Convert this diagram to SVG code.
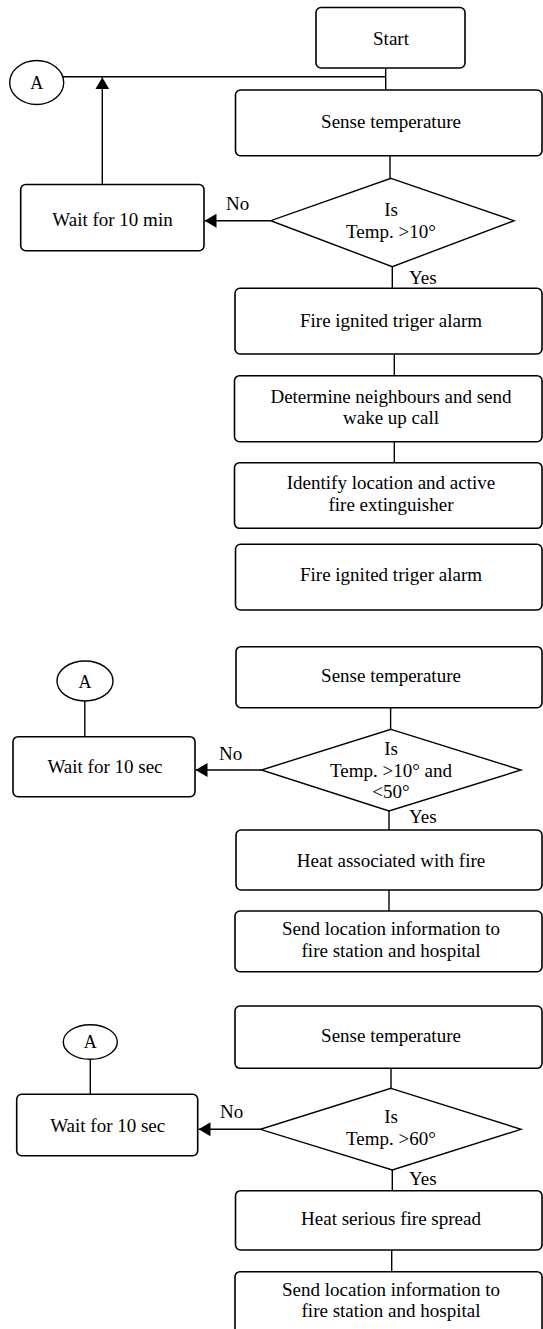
<svg xmlns="http://www.w3.org/2000/svg" width="543" height="1329" viewBox="0 0 543 1329">
<defs>
<style>
.box{fill:#fff;stroke:#000;stroke-width:1.6}
.dia{fill:#fff;stroke:#000;stroke-width:1.4}
.ell{fill:#fff;stroke:#000;stroke-width:1.4}
.ln{fill:none;stroke:#000;stroke-width:1.4}
.arr{fill:none;stroke:#000;stroke-width:1.4;marker-end:url(#ah)}
text{font-family:"Liberation Serif","Times New Roman",serif;font-size:19px;fill:#000;text-anchor:middle}
.lbl{text-anchor:start}
.a{font-size:18px}
</style>
<marker id="ah" viewBox="0 0 12 14" refX="12" refY="7" markerUnits="userSpaceOnUse" markerWidth="12" markerHeight="14" orient="auto">
<path d="M0,0 L12,7 L0,14 z" fill="#000"/>
</marker>
</defs>
<rect width="543" height="1329" fill="#fff"/>

<g id="connectors">
<!-- section 1 -->
<line class="ln" x1="63" y1="76.7" x2="385.7" y2="76.7"/>
<line class="ln" x1="385.7" y1="68" x2="385.7" y2="90"/>
<line class="ln" x1="390" y1="155.7" x2="390" y2="178.3"/>
<line class="arr" x1="270.7" y1="220.7" x2="204.5" y2="220.7"/>
<line class="arr" x1="102.3" y1="184.5" x2="102.3" y2="77.3"/>
<line class="ln" x1="392.3" y1="266.7" x2="392.3" y2="288.3"/>
<line class="ln" x1="394.3" y1="354" x2="394.3" y2="375.7"/>
<line class="ln" x1="394.3" y1="441.7" x2="394.3" y2="462.7"/>
<!-- section 2 -->
<line class="ln" x1="84.8" y1="701" x2="84.8" y2="736.7"/>
<line class="ln" x1="390.6" y1="707.7" x2="390.6" y2="729.3"/>
<line class="arr" x1="261.4" y1="770" x2="195.5" y2="770"/>
<line class="ln" x1="389" y1="811" x2="389" y2="830"/>
<line class="ln" x1="389" y1="890" x2="389" y2="911"/>
<!-- section 3 -->
<line class="ln" x1="90.3" y1="1059" x2="90.3" y2="1094.3"/>
<line class="ln" x1="391" y1="1068.3" x2="391" y2="1088.3"/>
<line class="arr" x1="260.4" y1="1129.3" x2="198.5" y2="1129.3"/>
<line class="ln" x1="392.3" y1="1170" x2="392.3" y2="1190.7"/>
<line class="ln" x1="391.7" y1="1250" x2="391.7" y2="1271.7"/>
</g>

<g id="labels">
<text class="lbl" x="226" y="210">No</text>
<text class="lbl" x="409" y="284">Yes</text>
<text class="lbl" x="219" y="760">No</text>
<text class="lbl" x="409" y="823.3">Yes</text>
<text class="lbl" x="220" y="1118.3">No</text>
<text class="lbl" x="409" y="1185">Yes</text>
</g>

<!-- Section 1 -->
<g id="a1">
<ellipse class="ell" cx="36.7" cy="82.5" rx="27" ry="22"/>
<text class="a" x="36.7" y="89">A</text>
</g>
<g id="start">
<rect class="box" x="316" y="7.5" width="149" height="60.5" rx="5"/>
<text x="391" y="45">Start</text>
</g>
<g id="sense1">
<rect class="box" x="235.5" y="90" width="306.5" height="65.7" rx="5"/>
<text x="391" y="128">Sense temperature</text>
</g>
<g id="dec1">
<polygon class="dia" points="391,178.3 514,220.7 392.3,266.7 270.7,220.7"/>
<text x="391" y="216">Is</text>
<text x="391" y="238">Temp. &gt;10°</text>
</g>
<g id="wait1">
<rect class="box" x="20.7" y="184.5" width="183.3" height="66.2" rx="5"/>
<text x="112.5" y="225.7">Wait for 10 min</text>
</g>
<g id="fire1">
<rect class="box" x="235" y="288.3" width="307" height="65.7" rx="5"/>
<text x="391" y="326.7">Fire ignited triger alarm</text>
</g>
<g id="neigh">
<rect class="box" x="234.5" y="375.7" width="307.5" height="66" rx="5"/>
<text x="391" y="402.7">Determine neighbours and send</text>
<text x="391" y="424">wake up call</text>
</g>
<g id="ident">
<rect class="box" x="234.5" y="462.7" width="307.5" height="65.6" rx="5"/>
<text x="391" y="489.3">Identify location and active</text>
<text x="391" y="510.7">fire extinguisher</text>
</g>
<g id="fire2">
<rect class="box" x="235.5" y="544.3" width="306.5" height="65.7" rx="5"/>
<text x="391" y="581">Fire ignited triger alarm</text>
</g>

<!-- Section 2 -->
<g id="a2">
<ellipse class="ell" cx="85" cy="681" rx="28" ry="20"/>
<text class="a" x="85" y="687.5">A</text>
</g>
<g id="sense2">
<rect class="box" x="236" y="646.7" width="306" height="61" rx="5"/>
<text x="391" y="681.7">Sense temperature</text>
</g>
<g id="dec2">
<polygon class="dia" points="391,729.3 521,770 389,811 261.4,770"/>
<text x="391" y="755">Is</text>
<text x="391" y="776.7">Temp. &gt;10° and</text>
<text x="391" y="798.3">&lt;50°</text>
</g>
<g id="wait2">
<rect class="box" x="13" y="736.7" width="182" height="60" rx="5"/>
<text x="105" y="773.3">Wait for 10 sec</text>
</g>
<g id="heat2">
<rect class="box" x="236" y="830" width="306" height="60" rx="5"/>
<text x="391" y="866.7">Heat associated with fire</text>
</g>
<g id="send2">
<rect class="box" x="235" y="911" width="307" height="60.7" rx="5"/>
<text x="391" y="935">Send location information to</text>
<text x="391" y="957.3">fire station and hospital</text>
</g>

<!-- Section 3 -->
<g id="a3">
<ellipse class="ell" cx="90.3" cy="1042" rx="27" ry="17.3"/>
<text class="a" x="90.3" y="1048.3">A</text>
</g>
<g id="sense3">
<rect class="box" x="235" y="1006" width="307" height="62.3" rx="5"/>
<text x="391" y="1041.7">Sense temperature</text>
</g>
<g id="dec3">
<polygon class="dia" points="391,1088.3 521,1129.3 392.3,1170 260.4,1129.3"/>
<text x="391" y="1122.7">Is</text>
<text x="391" y="1145.3">Temp. &gt;60°</text>
</g>
<g id="wait3">
<rect class="box" x="16.7" y="1094.3" width="181" height="61.4" rx="5"/>
<text x="107.7" y="1131.7">Wait for 10 sec</text>
</g>
<g id="heat3">
<rect class="box" x="235.5" y="1190.7" width="306.5" height="59.3" rx="5"/>
<text x="391" y="1225">Heat serious fire spread</text>
</g>
<g id="send3">
<rect class="box" x="235" y="1271.7" width="307" height="70" rx="5"/>
<text x="391" y="1296">Send location information to</text>
<text x="391" y="1317.3">fire station and hospital</text>
</g>
</svg>
